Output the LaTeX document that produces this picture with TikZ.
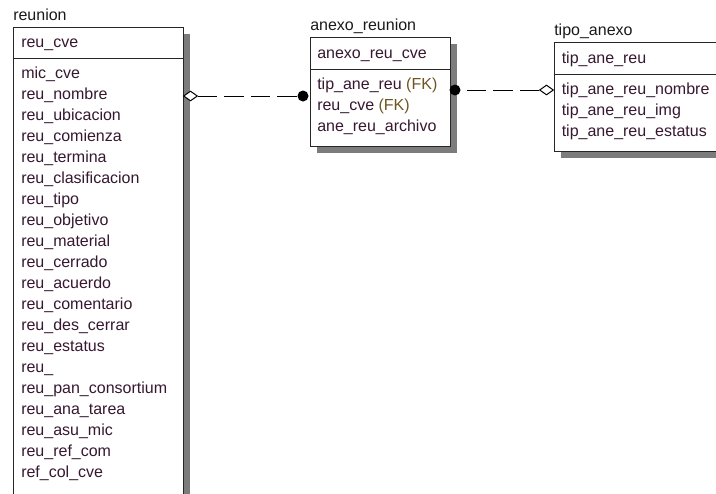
\documentclass[tikz,border=0pt]{standalone}
\usepackage{fontspec}
\setmainfont{Liberation Sans}
\usetikzlibrary{shapes.geometric,shadows}
\definecolor{attr}{HTML}{361830}
\definecolor{fkcol}{HTML}{6E5522}
\definecolor{shade}{HTML}{7C7C7C}
\tikzset{
  entity/.style={draw=black!85, fill=white, line width=0.75pt, anchor=north west,
    inner sep=0pt, outer sep=0pt,
    drop shadow={shadow xshift=4.9pt, shadow yshift=-4.9pt, fill=shade, opacity=1}},
  sepline/.style={draw=black!85, line width=0.75pt},
  title/.style={anchor=base west, inner sep=0pt, font=\fontsize{12}{14}\selectfont, text=black!90},
  field/.style={anchor=base west, inner sep=0pt, font=\fontsize{12}{14}\selectfont, text=attr},
  rel/.style={draw=black, line width=0.75pt, dash pattern=on 14.6pt off 5.25pt},
  diam/.style={diamond, draw=black, fill=white, line width=0.75pt, inner sep=0pt,
    minimum width=10.5pt, minimum height=7.5pt},
  dot/.style={circle, fill=black, inner sep=0pt, minimum size=8.25pt},
  fk/.style={text=fkcol}
}
\begin{document}
\begin{tikzpicture}[x=0.75pt, y=-0.75pt]
\useasboundingbox (0,0) rectangle (716,493);
\clip (0,0) rectangle (716,493);

% ---- entity: reunion ----
\node[title] (reunionT) at (13,20) {reunion};
\node[entity, minimum width=127.5pt, minimum height=354.75pt] (reunion) at (13,27) {};
\draw[sepline] (reunion.west |- 0,58) -- (reunion.east |- 0,58);
\node[field] (rk) at (21,47) {reu\_cve};
\foreach \t [count=\i] in {mic\_cve, reu\_nombre, reu\_ubicacion, reu\_comienza,
  reu\_termina, reu\_clasificacion, reu\_tipo, reu\_objetivo, reu\_material,
  reu\_cerrado, reu\_acuerdo, reu\_comentario, reu\_des\_cerrar, reu\_estatus,
  reu\_, reu\_pan\_consortium, reu\_ana\_tarea, reu\_asu\_mic, reu\_ref\_com,
  ref\_col\_cve}
  \node[field] (r\i) at (21,{57+21*\i}) {\t};

% ---- entity: anexo_reunion ----
\node[title] (anexoT) at (310,30.5) {anexo\_reunion};
\node[entity, minimum width=105pt, minimum height=81.75pt] (anexo) at (310,37) {};
\draw[sepline] (anexo.west |- 0,69) -- (anexo.east |- 0,69);
\node[field] (ak) at (317,58) {anexo\_reu\_cve};
\node[field] (a1) at (317,89) {tip\_ane\_reu \textcolor{fkcol}{(FK)}};
\node[field] (a2) at (317,110) {reu\_cve \textcolor{fkcol}{(FK)}};
\node[field] (a3) at (317,131) {ane\_reu\_archivo};

% ---- entity: tipo_anexo ----
\node[title] (tipoT) at (554,35.5) {tipo\_anexo};
\node[entity, minimum width=157.5pt, minimum height=82.1pt] (tipo) at (554,42) {};
\draw[sepline] (tipo.west |- 0,74) -- (tipo.east |- 0,74);
\node[field] (tk) at (561.5,63) {tip\_ane\_reu};
\node[field] (t1) at (561.5,94) {tip\_ane\_reu\_nombre};
\node[field] (t2) at (561.5,115) {tip\_ane\_reu\_img};
\node[field] (t3) at (561.5,136) {tip\_ane\_reu\_estatus};

% ---- relationships ----
\node[diam, anchor=west] (d1) at (reunion.east |- 0,96) {};
\node[dot] (p1) at ([xshift=-5.25pt]anexo.west |- 0,96) {};
\draw[rel] (d1.east) -- (p1.center);

\node[dot] (p2) at ([xshift=3.75pt]anexo.east |- 0,90) {};
\node[diam, anchor=east] (d2) at (tipo.west |- 0,90) {};
\draw[rel] (d2.west) -- (p2.center);
\end{tikzpicture}
\end{document}
